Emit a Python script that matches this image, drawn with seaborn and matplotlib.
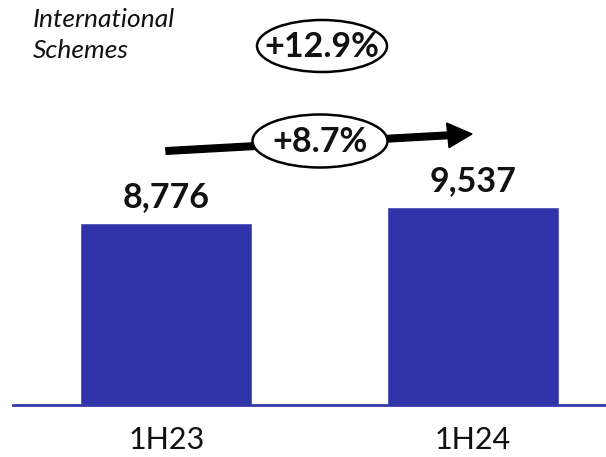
import matplotlib
matplotlib.use("Agg")
import matplotlib.pyplot as plt
import seaborn as sns
import pandas as pd
from matplotlib.patches import Ellipse, FancyArrow

categories = ["1H23", "1H24"]
values = [8776, 9537]
value_labels = ["8,776", "9,537"]
title_text = "International\nSchemes"
total_growth = "+12.9%"
yoy_growth = "+8.7%"

sns.set_theme(style="white")
plt.rcParams["font.family"] = ["Lato", "DejaVu Sans"]

W, H = 606, 457
fig = plt.figure(figsize=(W / 100, H / 100), dpi=100)

def fx(x):
    return x / W

def fy(y):
    return 1 - y / H

ax_left, ax_right, ax_base = 13, 606, 405
ax = fig.add_axes([fx(ax_left), fy(ax_base), (ax_right - ax_left) / W, ax_base / H])

df = pd.DataFrame({"cat": categories, "val": values})
sns.barplot(data=df, x="cat", y="val", color="#2E33A8", saturation=1, width=0.555,
            ax=ax, edgecolor="#5055C0", linewidth=0.6)

ax.set_xlim(-0.5, 1.434)
ax.set_ylim(0, 9537 * 405 / 197)
for s in ["top", "right", "left"]:
    ax.spines[s].set_visible(False)
ax.spines["bottom"].set_color("#3438A8")
ax.spines["bottom"].set_linewidth(2)
ax.set_yticks([])
ax.set_xlabel("")
ax.set_ylabel("")
ax.tick_params(axis="x", length=0, pad=15, labelsize=22, labelcolor="#111111")

for i, (v, lab) in enumerate(zip(values, value_labels)):
    ax.annotate(lab, (i, v), xytext=(0, 8), textcoords="offset points",
                ha="center", va="bottom", fontsize=24.5, fontweight="bold", color="#111111")

fig.text(fx(33), fy(35), title_text, fontsize=19, style="italic", ha="left", va="center",
         linespacing=1.45, color="#111111")

# arrow
arr = FancyArrow(fx(166), fy(151), fx(472) - fx(166), fy(134) - fy(151),
                 width=0.0145, head_width=0.054, head_length=0.04,
                 length_includes_head=True, transform=fig.transFigure,
                 color="black", zorder=5)
fig.add_artist(arr)

for cx, cy, w, h, txt in [(322, 46, 130, 52, total_growth), (320, 141, 135, 53, yoy_growth)]:
    e = Ellipse((fx(cx), fy(cy)), w / W, h / H, transform=fig.transFigure,
                facecolor="white", edgecolor="black", linewidth=1.8, zorder=6)
    fig.add_artist(e)
    fig.text(fx(cx), fy(cy + 1), txt, ha="center", va="center", fontsize=24.5,
             fontweight="bold", color="#111111", zorder=7)

fig.savefig("out.png", dpi=100)
